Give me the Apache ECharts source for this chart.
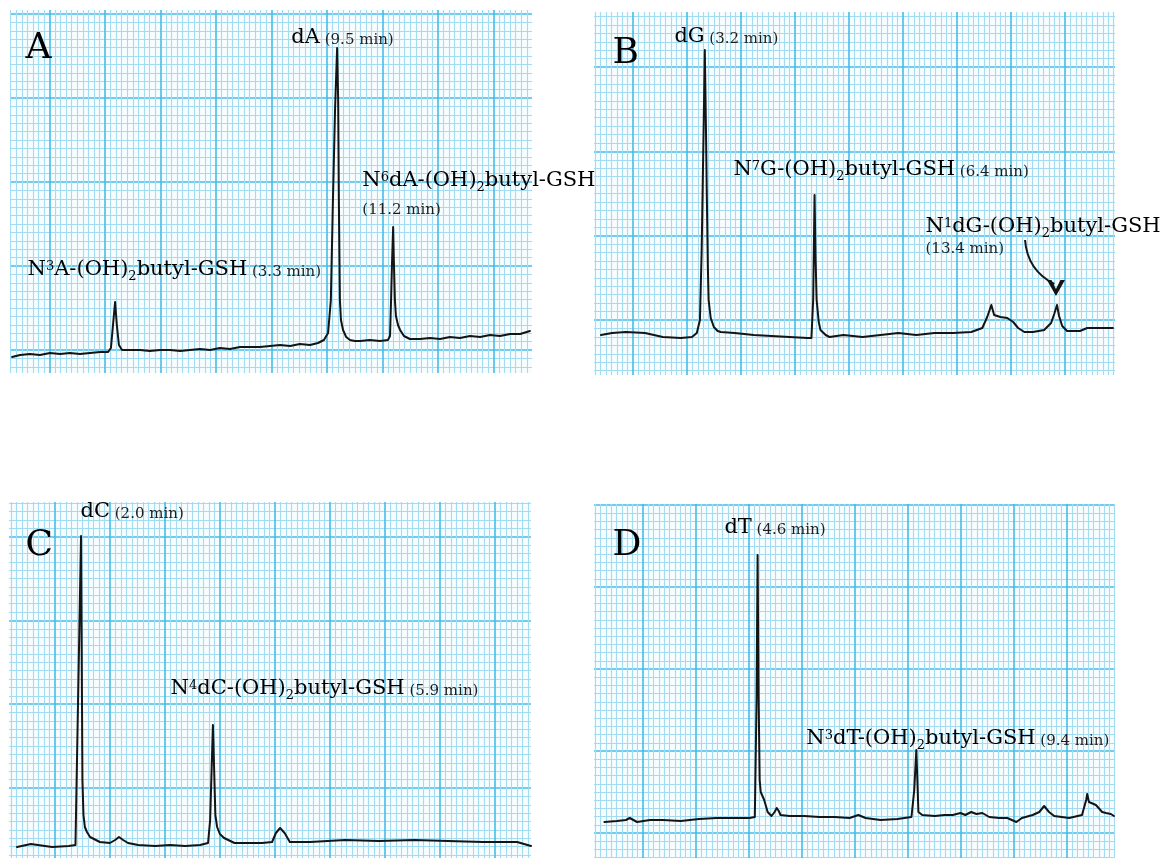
<!DOCTYPE html>
<html>
<head>
<meta charset="utf-8">
<script src="https://cdn.jsdelivr.net/npm/echarts@6/dist/echarts.min.js"></script>
<style>
html,body{margin:0;padding:0;background:#ffffff;}
#c{width:1160px;height:858px;}
</style>
</head>
<body>
<div id="c"></div>
<script>
// ---------- Panel A : retention time (min) and detector signal (arbitrary units) ----------
const tA = [0.06,0.29,0.57,0.86,1.15,1.44,1.72,2.01,2.30,2.59,2.82,2.90,2.96,3.02,3.07,3.13,3.22,3.45,3.74,4.02,4.31,4.60,4.89,5.17,5.46,5.75,6.03,6.32,6.61,6.90,7.18,7.47,7.76,8.05,8.33,8.62,8.85,9.02,9.14,9.22,9.28,9.34,9.40,9.43,9.45,9.48,9.51,9.57,9.66,9.77,9.91,10.06,10.34,10.63,10.86,10.92,10.95,10.98,11.01,11.03,11.06,11.09,11.15,11.21,11.32,11.49,11.78,12.07,12.36,12.64,12.93,13.22,13.51,13.79,14.08,14.37,14.66,14.94];
const sA = [1.6,1.8,1.9,1.8,2.0,1.9,2.0,1.9,2.0,2.1,2.1,2.5,4.8,7.1,4.8,2.8,2.3,2.3,2.3,2.2,2.3,2.3,2.2,2.3,2.4,2.3,2.5,2.4,2.6,2.6,2.6,2.7,2.8,2.7,2.9,2.8,3.0,3.3,4.0,7.3,17.3,26.3,32.5,27.3,17.3,7.3,5.3,4.3,3.6,3.3,3.2,3.2,3.3,3.2,3.3,3.7,7.3,11.3,14.6,11.3,7.3,5.7,4.8,4.3,3.7,3.4,3.4,3.5,3.4,3.6,3.5,3.7,3.6,3.8,3.7,3.9,3.9,4.2];

// ---------- Panel B ----------
const tB = [0.20,0.52,0.92,1.47,1.98,2.50,2.82,2.96,3.05,3.10,3.16,3.19,3.22,3.25,3.28,3.30,3.36,3.45,3.56,3.65,4.05,4.60,5.11,5.63,6.15,6.26,6.31,6.35,6.38,6.41,6.47,6.52,6.67,6.78,7.18,7.73,8.25,8.76,9.28,9.80,10.34,10.86,11.18,11.32,11.44,11.52,11.70,11.90,12.07,12.21,12.39,12.64,12.96,13.16,13.25,13.33,13.39,13.48,13.62,13.99,14.20,14.51,14.94];
const sB = [4.0,4.2,4.3,4.2,3.8,3.7,3.8,4.2,5.5,12.5,25.5,32.5,25.5,17.5,10.5,7.5,5.7,4.8,4.4,4.3,4.2,4.0,3.9,3.8,3.7,3.7,7.5,18.0,11.5,7.5,5.3,4.5,4.0,3.8,4.0,3.8,4.0,4.2,4.0,4.2,4.2,4.3,4.7,5.8,7.0,6.0,5.8,5.7,5.3,4.7,4.3,4.3,4.5,5.2,6.1,7.0,5.9,4.9,4.4,4.4,4.7,4.7,4.7];

// ---------- Panel C ----------
const tC = [0.23,0.63,0.83,1.24,1.72,1.91,2.07,2.11,2.14,2.18,2.24,2.33,2.61,2.90,3.05,3.16,3.28,3.42,3.71,4.20,4.63,5.06,5.49,5.72,5.78,5.86,5.93,5.98,6.06,6.18,6.48,6.87,7.27,7.56,7.67,7.79,7.92,8.07,8.65,9.66,10.63,11.64,12.61,13.62,14.60,15.00];
const sC = [1.1,1.4,1.3,1.1,1.2,1.3,32.2,7.8,4.3,3.1,2.6,2.1,1.6,1.5,1.8,2.1,1.8,1.5,1.3,1.2,1.3,1.2,1.3,1.5,3.8,13.3,4.3,3.1,2.4,2.0,1.5,1.5,1.5,1.6,2.5,3.0,2.5,1.6,1.6,1.8,1.7,1.8,1.7,1.6,1.6,1.2];

// ---------- Panel D ----------
const tD = [0.30,0.66,0.92,1.03,1.24,1.61,1.98,2.50,3.02,3.53,4.07,4.48,4.63,4.68,4.71,4.74,4.77,4.80,4.90,5.00,5.11,5.20,5.26,5.32,5.37,5.63,6.06,6.49,6.93,7.36,7.61,7.82,8.25,8.74,9.14,9.22,9.28,9.31,9.34,9.45,9.81,10.09,10.33,10.55,10.69,10.86,11.01,11.18,11.38,11.67,11.90,12.16,12.32,12.63,12.82,12.96,13.10,13.25,13.68,14.05,14.17,14.20,14.25,14.45,14.63,14.74,14.88,14.97];
const sD = [3.6,3.7,3.8,4.0,3.6,3.8,3.8,3.7,3.9,4.0,4.0,4.0,4.1,15.8,30.3,15.8,7.8,6.6,5.8,4.6,4.2,4.6,5.0,4.7,4.3,4.2,4.2,4.1,4.1,4.0,4.3,4.0,3.8,3.9,4.1,6.8,10.8,7.8,4.6,4.3,4.2,4.3,4.3,4.5,4.3,4.6,4.4,4.5,4.1,4.0,4.0,3.6,4.0,4.3,4.6,5.2,4.6,4.2,4.0,4.3,5.8,6.4,5.6,5.3,4.6,4.5,4.4,4.2];

// ---------- Annotations (anchor at retention time / signal) ----------
const labelsA = [
  {t:0.43,  v:32.45, text:'{big|A}'},
  {t:8.07,  v:33.55, text:'{m|dA}{s| (9.5 min)}'},
  {t:10.11, v:19.25, text:'{m|N}{sup|6}{m|dA-(OH)}{sub|2}{m|butyl-GSH}'},
  {t:10.11, v:16.5,  text:'{s|(11.2 min)}'},
  {t:0.49,  v:10.3,  text:'{m|N}{sup|3}{m|A-(OH)}{sub|2}{m|butyl-GSH}{s| (3.3 min)}'}
];
const labelsB = [
  {t:0.52,  v:32.1,  text:'{big|B}'},
  {t:2.30,  v:33.8,  text:'{m|dG}{s| (3.2 min)}'},
  {t:4.00,  v:20.5,  text:'{m|N}{sup|7}{m|G-(OH)}{sub|2}{m|butyl-GSH}{s| (6.4 min)}'},
  {t:9.53,  v:14.8,  text:'{m|N}{sup|1}{m|dG-(OH)}{sub|2}{m|butyl-GSH}'},
  {t:9.53,  v:12.8,  text:'{s|(13.4 min)}'}
];
const labelsC = [
  {t:0.46,  v:31.2,  text:'{big|C}'},
  {t:2.04,  v:34.6,  text:'{m|dC}{s| (2.0 min)}'},
  {t:4.63,  v:16.9,  text:'{m|N}{sup|4}{m|dC-(OH)}{sub|2}{m|butyl-GSH}{s| (5.9 min)}'}
];
const labelsD = [
  {t:0.52,  v:31.2,  text:'{big|D}'},
  {t:3.74,  v:33.0,  text:'{m|dT}{s| (4.6 min)}'},
  {t:6.10,  v:11.9,  text:'{m|N}{sup|3}{m|dT-(OH)}{sub|2}{m|butyl-GSH}{s| (9.4 min)}'}
];
// arrow in panel B: from label to the N1dG peak
const arrowB = [[12.41, 13.5], [13.25, 9.1]];
const arrowHeadB = [13.30, 8.7];

// ---------- Layout / style ----------
const F = 'DejaVu Serif';
const INK = '#000000';
const MAJOR = '#45bce8';
const MINOR = '#a3dcf1';
const rich = {
  m:   {fontFamily:F, fontSize:21, lineHeight:27, color:INK},
  sup: {fontFamily:F, fontSize:13, padding:[4,0,0,0], verticalAlign:'top', color:INK},
  sub: {fontFamily:F, fontSize:13, verticalAlign:'bottom', color:INK},
  s:   {fontFamily:F, fontSize:15, padding:[5,0,0,0], color:'#1e1e1e'},
  big: {fontFamily:F, fontSize:36, lineHeight:40, color:INK}
};

const panels = [
  {grid:{left:10,  top:10,  width:522, height:363}, px:[-7.12, 86.93], py:[-2.74, 40.47], vMax:36.3, t:tA, s:sA, labels:labelsA},
  {grid:{left:594, top:12,  width:521, height:363}, px:[-7.22, 89.26], py:[-6.52, 36.54], vMax:36.3, t:tB, s:sB, labels:labelsB},
  {grid:{left:9,   top:502, width:522, height:356}, px:[-8.36, 86.55], py:[-8.35, 34.13], vMax:35.6, t:tC, s:sC, labels:labelsC},
  {grid:{left:594, top:504, width:521, height:354}, px:[-9.25, 89.05], py:[-3.05, 40.12], vMax:35.4, t:tD, s:sD, labels:labelsD}
];

function paperAxis(gi, range) {
  return {
    type:'value', gridIndex:gi, min:range[0], max:range[1],
    minInterval:10, maxInterval:10, splitNumber:8,
    axisLine:{show:false}, axisTick:{show:false}, axisLabel:{show:false},
    splitLine:{show:true, showMinLine:false, showMaxLine:false, lineStyle:{color:MAJOR, width:1.6}},
    minorTick:{show:false, splitNumber:10},
    minorSplitLine:{show:true, lineStyle:{color:MINOR, width:1.1}}
  };
}

const grids = [], xAxes = [], yAxes = [], series = [];
panels.forEach((p, i) => {
  grids.push(Object.assign({show:true, backgroundColor:'#f7fcfe', borderWidth:0, containLabel:false}, p.grid));
  xAxes.push(paperAxis(i, p.px));
  xAxes.push({type:'value', gridIndex:i, min:0, max:15, show:false});
  yAxes.push(paperAxis(i, p.py));
  yAxes.push({type:'value', gridIndex:i, min:0, max:p.vMax, show:false});
  const xi = 2*i+1, yi = 2*i+1;
  series.push({
    type:'line', xAxisIndex:xi, yAxisIndex:yi,
    data:p.t.map((t, k) => [t, p.s[k]]),
    showSymbol:false, symbol:'none', silent:true, z:5,
    lineStyle:{color:'#141414', width:2, join:'round', cap:'round'}
  });
  series.push({
    type:'scatter', xAxisIndex:xi, yAxisIndex:yi, silent:true, z:6,
    symbolSize:1, itemStyle:{color:'rgba(0,0,0,0)'},
    data:p.labels.map(l => ({value:[l.t, l.v], label:{formatter:l.text}})),
    label:{show:true, position:'right', distance:0, align:'left', verticalAlign:'middle',
           color:INK, opacity:1, textBorderWidth:0, rich:rich}
  });
  if (i === 1) {
    series.push({
      type:'lines', coordinateSystem:'cartesian2d', xAxisIndex:xi, yAxisIndex:yi, silent:true, z:6,
      polyline:false,
      data:[{coords:arrowB}],
      symbol:['none','none'],
      lineStyle:{color:'#141414', width:2, curveness:-0.28, opacity:1}
    });
    series.push({
      type:'scatter', xAxisIndex:xi, yAxisIndex:yi, silent:true, z:7,
      data:[arrowHeadB],
      symbol:'path://M0,0 L9,16 L18,0 L13.5,0 L9,9 L4.5,0 Z',
      symbolSize:[18,16], symbolKeepAspect:false,
      itemStyle:{color:'#141414', opacity:1}
    });
  }
});

const chart = echarts.init(document.getElementById('c'), null, {renderer:'canvas'});
chart.setOption({
  animation:false,
  backgroundColor:'#ffffff',
  grid:grids, xAxis:xAxes, yAxis:yAxes, series:series
});
</script>
</body>
</html>
